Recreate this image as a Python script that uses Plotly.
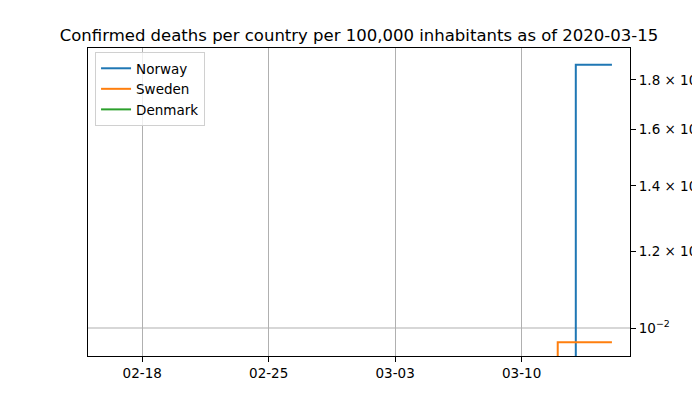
import plotly.graph_objects as go

# days from 2020-02-16 to 2020-03-15
dates = ["2020-02-16", "2020-02-17", "2020-02-18", "2020-02-19", "2020-02-20",
         "2020-02-21", "2020-02-22", "2020-02-23", "2020-02-24", "2020-02-25",
         "2020-02-26", "2020-02-27", "2020-02-28", "2020-02-29", "2020-03-01",
         "2020-03-02", "2020-03-03", "2020-03-04", "2020-03-05", "2020-03-06",
         "2020-03-07", "2020-03-08", "2020-03-09", "2020-03-10", "2020-03-11",
         "2020-03-12", "2020-03-13", "2020-03-14", "2020-03-15"]

# deaths per 100,000 inhabitants
norway = [0, 0, 0, 0, 0, 0, 0, 0, 0, 0, 0, 0, 0, 0, 0,
          0, 0, 0, 0, 0, 0, 0, 0, 0, 0, 0, 0.01865, 0.01865, 0.01865]
sweden = [0, 0, 0, 0, 0, 0, 0, 0, 0, 0, 0, 0, 0, 0, 0,
          0, 0, 0, 0, 0, 0, 0, 0, 0, 0, 0.00967, 0.00967, 0.00967, 0.00967]
denmark = [0, 0, 0, 0, 0, 0, 0, 0, 0, 0, 0, 0, 0, 0, 0,
           0, 0, 0, 0, 0, 0, 0, 0, 0, 0, 0, 0, 0, 0]

countries = ["Norway", "Sweden", "Denmark"]
colors = ["#1f77b4", "#ff7f0e", "#2ca02c"]

y_ticks = [0.01, 0.012, 0.014, 0.016, 0.018]
y_labels = ["10<sup>−2</sup>", "1.2 × 10<sup>−2</sup>", "1.4 × 10<sup>−2</sup>",
            "1.6 × 10<sup>−2</sup>", "1.8 × 10<sup>−2</sup>"]
x_ticks = ["2020-02-18", "2020-02-25", "2020-03-03", "2020-03-10"]


def floor_zero(vals):
    # zeros can't sit on a log axis, push them far below the view
    return [v if v > 0 else 1e-9 for v in vals]


fig = go.Figure()
for name, vals, col in zip(countries, [norway, sweden, denmark], colors):
    fig.add_trace(go.Scatter(x=dates, y=floor_zero(vals), name=name, mode="lines",
                             line=dict(color=col, width=2, shape="hv")))

# only the major log gridline (10^-2) is drawn in the original
fig.add_shape(type="line", xref="paper", x0=0, x1=1, yref="y", y0=0.01, y1=0.01,
              line=dict(color="#b0b0b0", width=1.1), layer="below")

# page body adds ~8px offset, margins compensate for it
fig.update_layout(
    width=700, height=400,
    margin=dict(l=80, r=78, t=40, b=52, autoexpand=False),
    paper_bgcolor="white", plot_bgcolor="white",
    font=dict(family="DejaVu Sans", size=13.5, color="black"),
    title=dict(text="Confirmed deaths per country per 100,000 inhabitants as of 2020-03-15",
               x=0.5, xref="paper", y=0.933, yref="container", yanchor="middle",
               font=dict(size=16.5), automargin=False),
    legend=dict(x=0.013, y=0.987, xanchor="left", yanchor="top",
                bgcolor="rgba(255,255,255,0.8)", bordercolor="#d0d0d0", borderwidth=1,
                font=dict(size=13.5)),
    xaxis=dict(range=["2020-02-15", "2020-03-16"], tickvals=x_ticks, tickformat="%m-%d",
               showgrid=True, gridcolor="#b0b0b0", gridwidth=1.1, automargin=False,
               showline=True, linecolor="black", linewidth=1.1, mirror=True,
               ticks="outside", ticklen=5, tickcolor="black", zeroline=False),
    yaxis=dict(type="log", side="right", range=[-2.0288, -1.712], automargin=False,
               tickvals=y_ticks, ticktext=y_labels, showgrid=False,
               showline=True, linecolor="black", linewidth=1.1, mirror=True,
               ticks="outside", ticklen=5, tickcolor="black", zeroline=False),
)

fig.write_html("out.html")
